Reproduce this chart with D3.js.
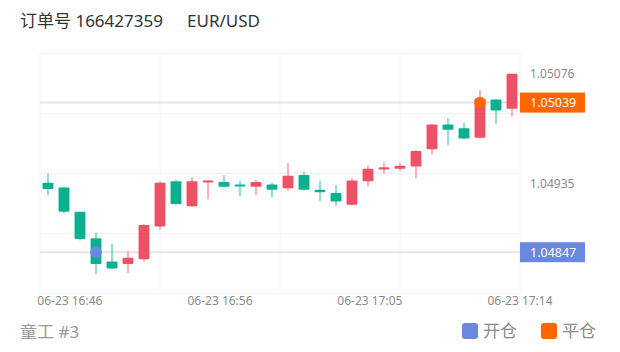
<!DOCTYPE html>
<html>
<head>
<meta charset="utf-8">
<script src="https://cdn.jsdelivr.net/npm/d3@7"></script>
<style>
  body { margin: 0; background: #fff; }
  text { font-family: "Noto Sans", "Noto Sans CJK SC", sans-serif; }
</style>
</head>
<body>
<div id="chart"></div>
<script>
const orderNo = '166427359'
const symbol = 'EUR/USD'
const footer = '童工 #3'

const times = ['16:45', '16:46', '16:47', '16:48', '16:49', '16:50', '16:51', '16:52', '16:53', '16:54',
  '16:55', '16:56', '16:57', '16:58', '16:59', '17:00', '17:01', '17:02', '17:03', '17:04',
  '17:05', '17:06', '17:07', '17:08', '17:09', '17:10', '17:11', '17:12', '17:13', '17:14']
const opens = [1.04936, 1.04930, 1.04899, 1.04865, 1.04835, 1.04832, 1.04838, 1.04880, 1.04938, 1.04906,
  1.04937, 1.04937, 1.04934, 1.04931, 1.04934, 1.04929, 1.04946, 1.04927, 1.04923, 1.04908,
  1.04938, 1.04953, 1.04954, 1.04957, 1.04979, 1.05011, 1.05006, 1.04994, 1.05043, 1.05031]
const highs = [1.04948, 1.04931, 1.04899, 1.04872, 1.04858, 1.04848, 1.04883, 1.04938, 1.04940, 1.04943,
  1.04940, 1.04946, 1.04939, 1.04940, 1.04936, 1.04961, 1.04950, 1.04939, 1.04933, 1.04942,
  1.04958, 1.04962, 1.04962, 1.04978, 1.05012, 1.05019, 1.05013, 1.05055, 1.05044, 1.05076]
const lows = [1.04920, 1.04897, 1.04862, 1.04819, 1.04825, 1.04820, 1.04835, 1.04876, 1.04908, 1.04905,
  1.04915, 1.04930, 1.04919, 1.04920, 1.04918, 1.04926, 1.04926, 1.04912, 1.04907, 1.04907,
  1.04932, 1.04948, 1.04951, 1.04942, 1.04973, 1.04984, 1.04992, 1.04993, 1.05012, 1.05021]
const closes = [1.04928, 1.04899, 1.04864, 1.04832, 1.04826, 1.04840, 1.04882, 1.04936, 1.04909, 1.04938,
  1.04939, 1.04931, 1.04932, 1.04937, 1.04927, 1.04945, 1.04927, 1.04924, 1.04912, 1.04939,
  1.04954, 1.04956, 1.04958, 1.04977, 1.05011, 1.05004, 1.04993, 1.05044, 1.05029, 1.05076]

// price axis labels and x tick labels
const yTickValues = [1.05076, 1.04935]
const xTickTimes = ['16:46:22', '16:55:45', '17:05:07', '17:14:30']
const xTickLabels = ['06-23 16:46', '06-23 16:56', '06-23 17:05', '06-23 17:14']

// open / close positions
const openPos = { time: '16:48', price: 1.04847 }
const closePos = { time: '17:12', price: 1.05039 }

const legendItems = ['开仓', '平仓']

const upColor = '#ec5166'
const downColor = '#0bb18f'
const openColor = '#6a88e0'
const closeColor = '#ff6600'

const width = 620
const height = 352
const plot = { left: 40, right: 520, top: 53.5, bottom: 293.5 }

const parse = t => d3.timeParse('%Y-%m-%d %H:%M:%S')('2023-06-23 ' + (t.length === 5 ? t + ':00' : t))

const candles = times.map((t, i) => ({
  time: parse(t), open: opens[i], high: highs[i], low: lows[i], close: closes[i]
}))

const svg = d3.select('#chart').append('svg')
  .attr('width', width)
  .attr('height', height)

const x = d3.scaleTime()
  .domain([parse('16:44:30'), parse('17:14:30')])
  .range([plot.left, plot.right])

const y = d3.scaleLinear()
  .domain([1.04794, 1.05102])
  .range([plot.bottom, plot.top])

const step = x(parse('16:46')) - x(parse('16:45'))
const bodyW = step * 0.68

// grid
const grid = svg.append('g')
grid.selectAll('.hgrid')
  .data(d3.range(5))
  .enter()
  .append('line')
  .attr('x1', plot.left)
  .attr('x2', plot.right)
  .attr('y1', i => plot.top + i * (plot.bottom - plot.top) / 4)
  .attr('y2', i => plot.top + i * (plot.bottom - plot.top) / 4)
  .attr('stroke', '#f2f2f2')
grid.selectAll('.vgrid')
  .data(d3.range(5))
  .enter()
  .append('line')
  .attr('y1', plot.top)
  .attr('y2', plot.bottom)
  .attr('x1', i => plot.left + i * (plot.right - plot.left) / 4)
  .attr('x2', i => plot.left + i * (plot.right - plot.left) / 4)
  .attr('stroke', '#f2f2f2')

// position price lines
;[openPos, closePos].forEach(p => {
  svg.append('line')
    .attr('x1', plot.left)
    .attr('x2', plot.right)
    .attr('y1', y(p.price))
    .attr('y2', y(p.price))
    .attr('stroke', '#e4e4e4')
    .attr('stroke-width', 2)
})

// candles
const g = svg.append('g')
g.selectAll('.wick')
  .data(candles)
  .enter()
  .append('line')
  .attr('x1', d => x(d.time))
  .attr('x2', d => x(d.time))
  .attr('y1', d => y(d.high))
  .attr('y2', d => y(d.low))
  .attr('stroke', d => d.close >= d.open ? upColor : downColor)
  .attr('stroke-opacity', 0.55)
  .attr('stroke-width', 1.6)

g.selectAll('.body')
  .data(candles)
  .enter()
  .append('rect')
  .attr('x', d => x(d.time) - bodyW / 2)
  .attr('width', bodyW)
  .attr('y', d => y(Math.max(d.open, d.close)))
  .attr('height', d => Math.max(2, Math.abs(y(d.open) - y(d.close))))
  .attr('rx', 1)
  .attr('fill', d => d.close >= d.open ? upColor : downColor)

// markers
svg.append('circle')
  .attr('cx', x(parse(openPos.time)))
  .attr('cy', y(openPos.price))
  .attr('r', 5.8)
  .attr('fill', openColor)
svg.append('circle')
  .attr('cx', x(parse(closePos.time)))
  .attr('cy', y(closePos.price))
  .attr('r', 5.8)
  .attr('fill', closeColor)

// right price axis
svg.selectAll('.ylabel')
  .data(yTickValues)
  .enter()
  .append('text')
  .attr('x', plot.right + 10)
  .attr('y', d => y(d))
  .attr('dy', '0.35em')
  .attr('font-size', 12)
  .attr('fill', '#8a8a8a')
  .text(d => d.toFixed(5))

;[[openPos, openColor], [closePos, closeColor]].forEach(([p, c]) => {
  svg.append('rect')
    .attr('x', plot.right)
    .attr('y', y(p.price) - 10)
    .attr('width', 65)
    .attr('height', 20)
    .attr('fill', c)
  svg.append('text')
    .attr('x', plot.right + 10)
    .attr('y', y(p.price))
    .attr('dy', '0.35em')
    .attr('font-size', 12.5)
    .attr('fill', '#fff')
    .text(p.price.toFixed(5))
})

// x axis labels
svg.selectAll('.xlabel')
  .data(xTickTimes)
  .enter()
  .append('text')
  .attr('x', d => x(parse(d)))
  .attr('y', 305)
  .attr('text-anchor', 'middle')
  .attr('font-size', 12)
  .attr('fill', '#8a8a8a')
  .text((d, i) => xTickLabels[i])

// title
svg.append('text')
  .attr('x', 20)
  .attr('y', 27)
  .attr('font-size', 17)
  .attr('fill', '#333')
  .text('订单号 ' + orderNo)
svg.append('text')
  .attr('x', 187)
  .attr('y', 27)
  .attr('font-size', 17)
  .attr('fill', '#333')
  .text(symbol)

// footer
svg.append('text')
  .attr('x', 20)
  .attr('y', 338)
  .attr('font-size', 17)
  .attr('fill', '#999')
  .text(footer)

const legend = svg.append('g')
legend.selectAll('rect')
  .data(legendItems)
  .enter()
  .append('rect')
  .attr('x', (d, i) => 462 + i * 79)
  .attr('y', 323)
  .attr('width', 16)
  .attr('height', 16)
  .attr('rx', 3)
  .attr('fill', (d, i) => i === 0 ? openColor : closeColor)
legend.selectAll('text')
  .data(legendItems)
  .enter()
  .append('text')
  .attr('x', (d, i) => 483 + i * 79)
  .attr('y', 337)
  .attr('font-size', 17)
  .attr('fill', '#8a8a8a')
  .text(d => d)
</script>
</body>
</html>
